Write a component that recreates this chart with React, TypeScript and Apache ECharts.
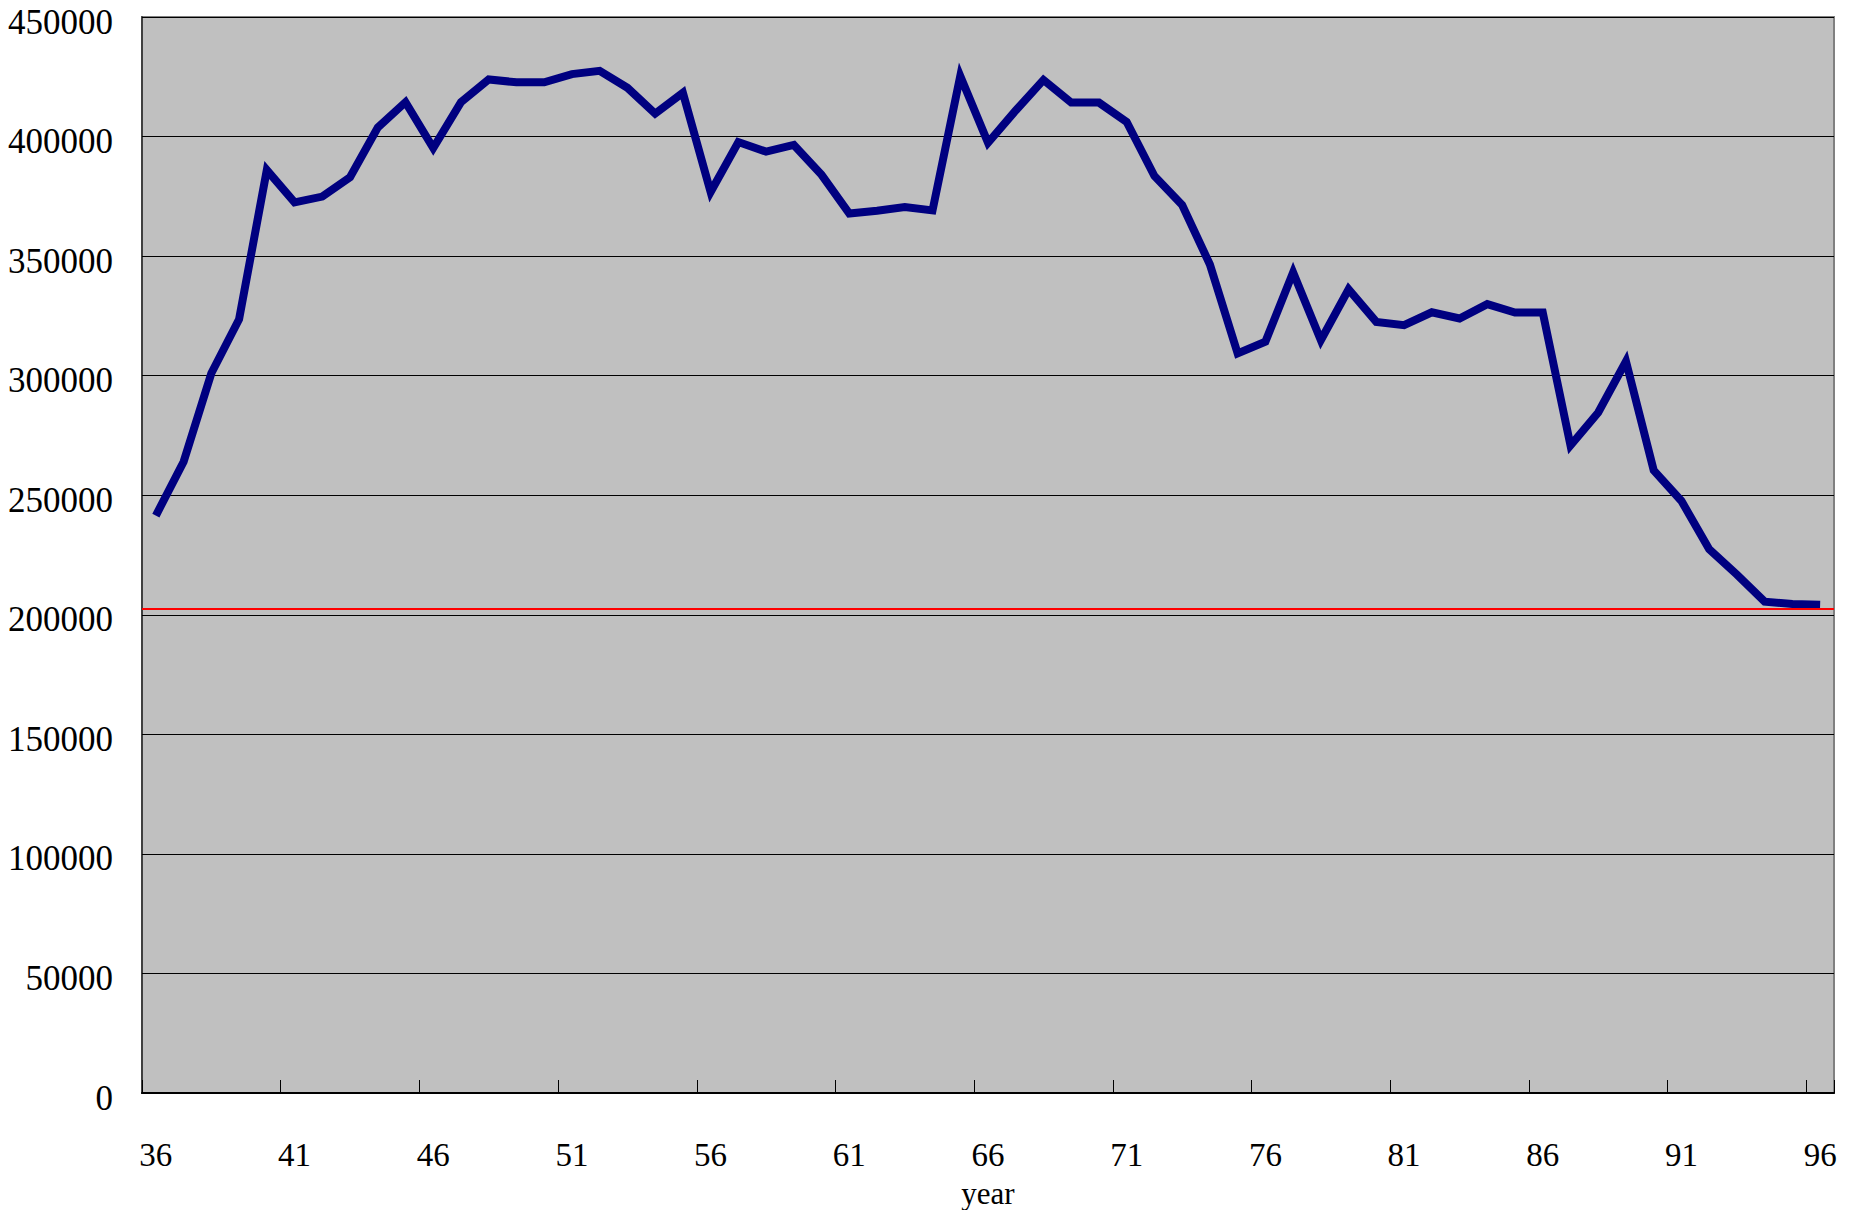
import React, { useEffect, useRef } from "react";
import * as echarts from "echarts";

const years: string[] = [
  "36","37","38","39","40","41","42","43","44","45",
  "46","47","48","49","50","51","52","53","54","55",
  "56","57","58","59","60","61","62","63","64","65",
  "66","67","68","69","70","71","72","73","74","75",
  "76","77","78","79","80","81","82","83","84","85",
  "86","87","88","89","90","91","92","93","94","95","96",
];

const values: number[] = [
  241500, 264000, 301000, 323600, 386000, 372500, 374900, 383000, 403800, 414400,
  395200, 414400, 423900, 422700, 422700, 426100, 427500, 420400, 409600, 418300,
  376800, 397700, 393700, 396500, 384000, 367800, 369000, 370500, 369100, 425300,
  397400, 410900, 423700, 414200, 414200, 406100, 383500, 371400, 346500, 309300,
  314200, 343200, 314800, 336100, 322500, 321100, 326500, 323900, 329900, 326400,
  326400, 270800, 284600, 306000, 260400, 247600, 227400, 216800, 205500, 204500, 204200,
];

const referenceLine = 202700;

const FONT = "'Liberation Serif', 'Times New Roman', serif";

export default function App() {
  const ref = useRef<HTMLDivElement>(null);
  useEffect(() => {
    if (!ref.current) return;
    const chart = echarts.init(ref.current, null, { renderer: "svg" });
    chart.setOption({
      animation: false,
      backgroundColor: "#ffffff",
      grid: {
        left: 142,
        right: 18,
        top: 17,
        bottom: 117,
        containLabel: false,
        outerBoundsMode: "none",
        show: true,
        backgroundColor: "#C0C0C0",
        borderColor: "#808080",
        borderWidth: 2,
      },
      xAxis: {
        type: "category",
        data: years,
        boundaryGap: true,
        name: "year",
        nameLocation: "middle",
        nameGap: 87,
        nameMoveOverlap: false,
        nameTextStyle: { color: "#000", fontFamily: FONT, fontSize: 31, lineHeight: 26 },
        axisLine: { show: true, lineStyle: { color: "#000", width: 2 } },
        axisTick: { show: true, inside: true, length: 13, interval: 4, lineStyle: { color: "#000", width: 1 } },
        axisLabel: { interval: 4, margin: 48, lineHeight: 28, color: "#000", fontFamily: FONT, fontSize: 33 },
        splitLine: { show: false },
      },
      yAxis: {
        type: "value",
        min: 0,
        max: 450000,
        interval: 50000,
        axisLine: { show: true, lineStyle: { color: "#404040", width: 2 } },
        axisTick: { show: true, inside: true, length: 12, lineStyle: { color: "#000", width: 1 } },
        axisLabel: {
          margin: 29,
          color: "#000",
          fontFamily: FONT,
          fontSize: 35,
          verticalAlign: "top",
          lineHeight: 10,
          formatter: (v: number) => String(v),
        },
        splitLine: { show: true, lineStyle: { color: "#000", width: 1 } },
      },
      series: [
        {
          type: "line",
          data: values,
          symbol: "none",
          lineStyle: { color: "#000080", width: 8, join: "miter" },
          itemStyle: { color: "#000080" },
          markLine: {
            silent: true,
            symbol: "none",
            label: { show: false },
            lineStyle: { color: "#ff0000", width: 2, type: "solid" },
            data: [{ yAxis: referenceLine }],
          },
        },
      ],
    });
    return () => chart.dispose();
  }, []);
  return (
    <div
      ref={ref}
      style={{ position: "fixed", left: 0, top: 0, width: 1852, height: 1210 }}
    />
  );
}
